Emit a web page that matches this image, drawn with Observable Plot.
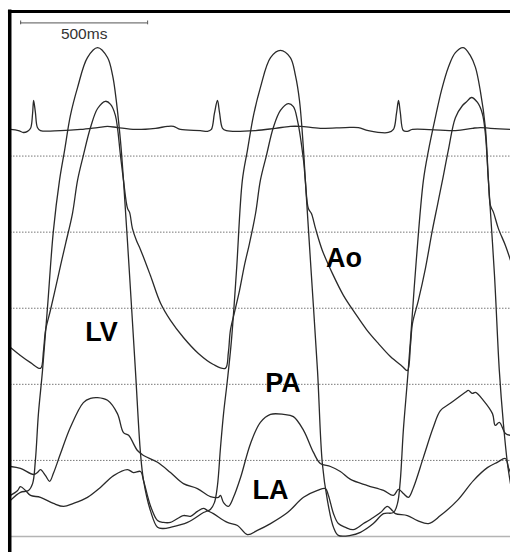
<!DOCTYPE html>
<html><head><meta charset="utf-8">
<script src="https://cdn.jsdelivr.net/npm/d3@7"></script>
<script src="https://cdn.jsdelivr.net/npm/@observablehq/plot@0.6"></script>
<style>html,body{margin:0;padding:0;background:#fff;} #chart svg{display:block;}</style>
</head><body><div id="chart"></div>
<script>
// time in ms, pressure in mmHg
const lv = [[0,9.5],[39,11.6],[71,12.1],[87,13.9],[98,20.0],[110,32.3],[126,43.6],[146,60.5],[169,80.4],[193,93.6],[213,101.5],[236,110.7],[264,118.0],[303,125.9],[343,128.5],[382,125.9],[402,121.2],[413,116.5],[433,104.1],[445,93.6],[469,68.6],[492,43.6],[512,21.8],[524,14.7],[551,6.8],[579,2.4],[602,2.1],[630,2.4],[697,3.7],[760,6.3],[787,7.1],[803,8.9],[815,13.4],[827,23.4],[839,32.3],[854,41.0],[870,51.5],[890,69.9],[913,93.6],[933,101.5],[957,110.7],[984,118.0],[1024,125.9],[1063,127.8],[1102,125.9],[1122,121.2],[1138,114.6],[1154,101.5],[1161,93.6],[1185,68.6],[1209,43.6],[1228,19.2],[1248,9.5],[1272,2.4],[1291,0.3],[1339,0.3],[1378,1.1],[1429,3.4],[1469,6.0],[1508,6.3],[1524,8.7],[1535,14.7],[1547,27.9],[1563,41.0],[1575,51.5],[1598,72.6],[1626,93.6],[1646,101.5],[1673,110.1],[1697,117.2],[1724,123.3],[1752,127.2],[1783,128.5],[1811,126.4],[1831,123.3],[1850,117.2],[1870,107.5],[1882,93.6],[1906,68.6],[1925,43.6],[1941,29.7],[1957,19.2],[1969,13.9]];
const ao = [[0,49.7],[39,47.6],[79,45.7],[118,44.2],[130,48.9],[138,54.2],[157,59.4],[177,65.2],[197,71.2],[217,77.0],[244,84.9],[264,93.6],[287,100.2],[315,107.5],[343,112.5],[374,114.4],[394,113.6],[413,110.7],[433,100.2],[445,93.6],[461,86.2],[469,85.2],[480,81.0],[496,77.8],[512,75.4],[551,68.6],[591,61.3],[630,56.8],[681,52.3],[740,48.1],[799,45.2],[846,44.2],[858,48.4],[866,54.2],[882,58.9],[902,64.7],[921,71.2],[941,77.0],[965,84.9],[984,93.6],[1008,100.2],[1035,107.5],[1063,112.0],[1094,113.8],[1114,113.0],[1130,109.4],[1154,98.8],[1161,93.6],[1173,86.2],[1185,84.9],[1201,81.0],[1228,75.2],[1268,69.1],[1311,63.4],[1358,58.6],[1402,54.4],[1449,50.7],[1496,47.3],[1543,44.7],[1563,43.6],[1575,50.2],[1583,56.0],[1606,62.0],[1634,70.5],[1661,80.4],[1681,87.0],[1701,93.6],[1724,101.5],[1752,110.1],[1780,113.3],[1795,114.2],[1815,115.4],[1839,114.1],[1858,111.2],[1870,105.9],[1882,93.6],[1890,87.0],[1902,85.2],[1921,81.0],[1949,76.5],[1969,72.6]];
const pa = [[0,18.4],[39,17.9],[91,16.3],[106,16.8],[118,17.6],[138,16.0],[154,14.5],[169,16.6],[197,21.8],[236,28.7],[287,35.2],[315,36.3],[343,36.5],[382,35.8],[421,32.3],[445,27.3],[465,26.6],[500,22.6],[524,21.3],[579,19.5],[630,16.8],[681,13.9],[736,12.6],[787,10.5],[819,10.3],[827,10.8],[839,8.9],[858,7.9],[878,10.3],[906,15.5],[945,24.4],[984,30.0],[1024,32.1],[1075,32.1],[1114,31.5],[1154,27.9],[1193,22.1],[1220,19.2],[1260,18.4],[1299,17.1],[1339,15.0],[1406,13.4],[1469,12.1],[1508,10.8],[1528,12.4],[1547,11.3],[1567,10.3],[1587,12.9],[1626,20.8],[1665,28.7],[1693,33.1],[1732,35.0],[1791,37.9],[1803,38.4],[1819,37.6],[1831,37.9],[1862,35.8],[1898,32.3],[1909,29.2],[1925,30.0],[1949,27.1],[1969,26.6]];
const la = [[0,10.8],[28,12.1],[39,13.1],[59,12.1],[79,10.8],[118,10.3],[169,8.7],[209,7.9],[248,8.7],[303,10.3],[354,12.9],[406,16.0],[461,17.6],[484,16.8],[512,17.1],[524,14.7],[551,8.1],[579,4.2],[602,3.7],[630,3.7],[681,5.5],[709,5.3],[736,6.6],[760,7.4],[776,6.8],[799,6.0],[854,3.7],[894,2.9],[933,0.5],[972,1.6],[1024,3.4],[1091,6.3],[1154,10.3],[1209,12.1],[1240,12.6],[1252,10.8],[1272,6.0],[1291,3.4],[1319,2.4],[1350,1.8],[1390,3.4],[1429,5.0],[1457,6.3],[1484,7.9],[1504,6.8],[1516,6.0],[1563,5.5],[1603,4.2],[1646,3.4],[1693,5.5],[1760,9.5],[1823,14.7],[1878,18.1],[1917,19.5],[1949,20.5],[1961,18.1],[1969,16.8]];
const ecg = [[0,107.0],[31,106.7],[51,106.2],[67,106.5],[79,107.3],[87,111.2],[91,114.6],[98,111.5],[106,107.5],[118,106.7],[197,106.7],[276,107.0],[343,107.5],[382,107.8],[421,107.5],[492,107.0],[571,107.3],[618,107.8],[642,107.8],[669,107.0],[748,106.7],[776,106.5],[791,107.0],[803,111.2],[815,114.6],[823,111.5],[835,107.3],[850,106.7],[965,106.7],[1043,107.3],[1102,107.8],[1142,107.8],[1220,107.3],[1319,107.5],[1370,107.5],[1409,106.7],[1488,106.2],[1508,107.0],[1520,111.2],[1528,114.6],[1535,111.5],[1547,106.7],[1563,106.5],[1583,107.0],[1752,106.7],[1819,107.3],[1850,107.5],[1890,107.3],[1969,107.0]];

const labels = ["LV", "Ao", "PA", "LA"];
const labelT = [358, 1313, 1073, 1024];
const labelP = [53.6, 73.1, 40.2, 12.1];
const gridP = [20, 40, 60, 80, 100];
const scaleBarMs = [40, 540];
const scaleBarText = "500ms";

const rows = [];
[["LV", lv], ["Ao", ao], ["PA", pa], ["LA", la], ["ECG", ecg]].forEach(([name, arr]) => {
  arr.forEach(([t, p]) => rows.push({trace: name, t, p}));
});
const labelRows = labels.map((s, i) => ({s, t: labelT[i], p: labelP[i]}));

const chart = Plot.plot({
  width: 510, height: 552,
  marginLeft: 10, marginRight: 0, marginTop: 11, marginBottom: 16,
  x: {domain: [0, 1969], axis: null},
  y: {domain: [0, 138], axis: null},
  style: {background: "#fff", overflow: "visible"},
  marks: [
    Plot.ruleY(gridP, {stroke: "#777", strokeDasharray: "1.5,1.5", strokeWidth: 1}),
    Plot.ruleY([0], {stroke: "#b4b4b4", strokeWidth: 1.5}),
    Plot.line(rows, {x: "t", y: "p", z: "trace", curve: "catmull-rom", stroke: "#2a2a2a", strokeWidth: 1.3}),
    Plot.text(labelRows, {x: "t", y: "p", text: "s", fontSize: 27, fontWeight: "bold", fontFamily: "Liberation Sans, Arial, sans-serif", fill: "#000"}),
    Plot.ruleY([135], {x1: scaleBarMs[0], x2: scaleBarMs[1], stroke: "#555", strokeWidth: 1}),
    Plot.ruleX(scaleBarMs, {y1: 134.5, y2: 135.5, stroke: "#555", strokeWidth: 1}),
    Plot.text([scaleBarText], {x: (scaleBarMs[0] + scaleBarMs[1]) / 2, y: 132, text: d => d, fontSize: 15.5, fontFamily: "Liberation Sans, Arial, sans-serif", fill: "#333"}),
    Plot.ruleY([138], {x1: -8, x2: 1969, stroke: "#000", strokeWidth: 3}),
    Plot.ruleX([-3], {y1: 138.4, y2: -4.3, stroke: "#000", strokeWidth: 3.5})
  ]
});
document.getElementById("chart").appendChild(chart);
</script>
</body></html>
